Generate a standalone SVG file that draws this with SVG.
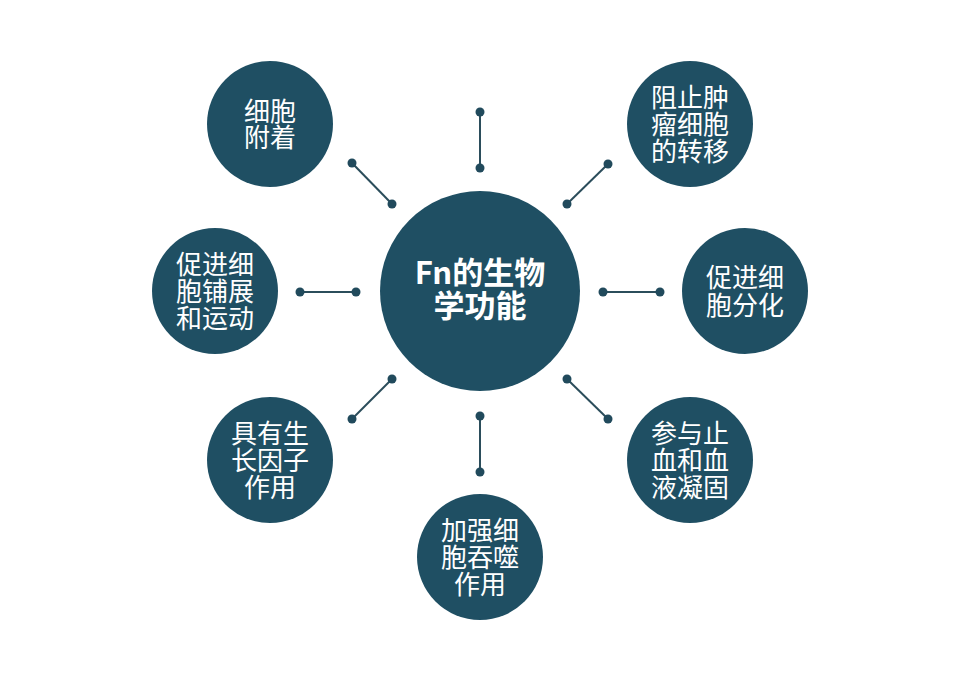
<svg xmlns="http://www.w3.org/2000/svg" width="960" height="680" viewBox="0 0 960 680">
<style>
.node{fill:#1f4f63}
.t{fill:#ffffff;font-family:"Noto Sans CJK SC","Noto Sans",sans-serif;font-size:26px;text-anchor:middle}
.tc{fill:#ffffff;font-family:"Noto Sans CJK SC","Noto Sans",sans-serif;font-size:31px;font-weight:bold;text-anchor:middle}
.ln{stroke:#2b4d5b;stroke-width:2;fill:none}
.dot{fill:#214a5c}
</style>
<rect width="960" height="680" fill="#ffffff"/>
<g id="connectors">
<line class="ln" x1="352" y1="163" x2="392" y2="204"/><circle class="dot" cx="352" cy="163" r="4.5"/><circle class="dot" cx="392" cy="204" r="4.5"/>
<line class="ln" x1="480" y1="112" x2="480" y2="168"/><circle class="dot" cx="480" cy="112" r="4.5"/><circle class="dot" cx="480" cy="168" r="4.5"/>
<line class="ln" x1="608" y1="164" x2="567" y2="204"/><circle class="dot" cx="608" cy="164" r="4.5"/><circle class="dot" cx="567" cy="204" r="4.5"/>
<line class="ln" x1="300" y1="292" x2="356" y2="292"/><circle class="dot" cx="300" cy="292" r="4.5"/><circle class="dot" cx="356" cy="292" r="4.5"/>
<line class="ln" x1="603" y1="292" x2="660" y2="292"/><circle class="dot" cx="603" cy="292" r="4.5"/><circle class="dot" cx="660" cy="292" r="4.5"/>
<line class="ln" x1="392" y1="379" x2="352" y2="419"/><circle class="dot" cx="392" cy="379" r="4.5"/><circle class="dot" cx="352" cy="419" r="4.5"/>
<line class="ln" x1="567" y1="379" x2="608" y2="419"/><circle class="dot" cx="567" cy="379" r="4.5"/><circle class="dot" cx="608" cy="419" r="4.5"/>
<line class="ln" x1="480" y1="416" x2="480" y2="472"/><circle class="dot" cx="480" cy="416" r="4.5"/><circle class="dot" cx="480" cy="472" r="4.5"/>
</g>
<g id="center">
<circle class="node" cx="480" cy="291" r="100"/>
<text class="tc"><tspan x="480" y="284">Fn的生物</tspan><tspan x="480" y="317">学功能</tspan></text>
</g>
<g id="n-adhesion">
<circle class="node" cx="270" cy="124" r="63"/>
<text class="t"><tspan x="270" y="121">细胞</tspan><tspan x="270" y="147">附着</tspan></text>
</g>
<g id="n-metastasis">
<circle class="node" cx="690" cy="124" r="63"/>
<text class="t"><tspan x="690" y="107">阻止肿</tspan><tspan x="690" y="134">瘤细胞</tspan><tspan x="690" y="161">的转移</tspan></text>
</g>
<g id="n-spreading">
<circle class="node" cx="215" cy="291" r="63"/>
<text class="t"><tspan x="215" y="274">促进细</tspan><tspan x="215" y="301">胞铺展</tspan><tspan x="215" y="328">和运动</tspan></text>
</g>
<g id="n-differentiation">
<circle class="node" cx="745" cy="291" r="63"/>
<text class="t"><tspan x="745" y="287">促进细</tspan><tspan x="745" y="315">胞分化</tspan></text>
</g>
<g id="n-growth">
<circle class="node" cx="270" cy="460" r="63"/>
<text class="t"><tspan x="270" y="443">具有生</tspan><tspan x="270" y="470">长因子</tspan><tspan x="270" y="497">作用</tspan></text>
</g>
<g id="n-hemostasis">
<circle class="node" cx="690" cy="460" r="63"/>
<text class="t"><tspan x="690" y="443">参与止</tspan><tspan x="690" y="470">血和血</tspan><tspan x="690" y="497">液凝固</tspan></text>
</g>
<g id="n-phagocytosis">
<circle class="node" cx="480" cy="557" r="63"/>
<text class="t"><tspan x="480" y="540">加强细</tspan><tspan x="480" y="567">胞吞噬</tspan><tspan x="480" y="594">作用</tspan></text>
</g>
</svg>
